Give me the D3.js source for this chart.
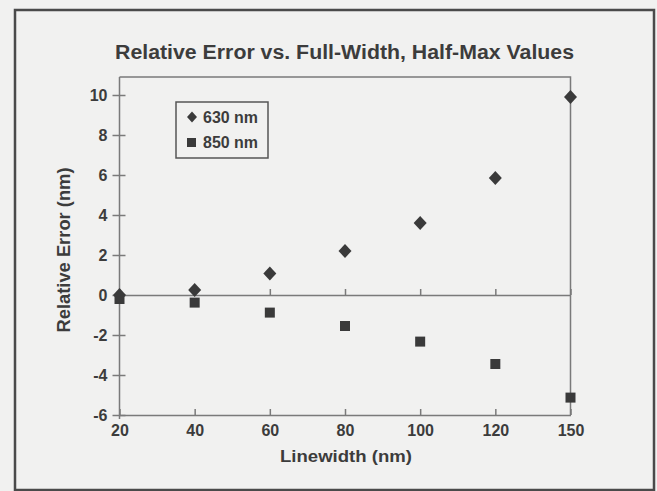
<!DOCTYPE html>
<html>
<head>
<meta charset="utf-8">
<script src="https://cdn.jsdelivr.net/npm/d3@7"></script>
<style>
  body { margin: 0; background: #f1f1f0; }
  text { font-family: "Liberation Sans", Arial, sans-serif; font-weight: bold; fill: #3c3c3c; }
</style>
</head>
<body>
<div id="chart"></div>
<script>
// chart values
var linewidths = ["20", "40", "60", "80", "100", "120", "150"];
var err630 = [0.0, 0.25, 1.08, 2.2, 3.6, 5.85, 9.9];
var err850 = [-0.2, -0.38, -0.88, -1.55, -2.33, -3.45, -5.13];
var yTicks = [-6, -4, -2, 0, 2, 4, 6, 8, 10];
var seriesNames = ["630 nm", "850 nm"];

var svgWidth = 657;
var svgHeight = 491;

var plot = { left: 119.5, right: 570.5, top: 77, bottom: 415 };

var svg = d3.select("#chart")
  .append("svg")
  .attr("width", svgWidth)
  .attr("height", svgHeight);

// page frame
svg.append("rect")
  .attr("x", 15).attr("y", 10)
  .attr("width", 639).attr("height", 480)
  .attr("fill", "none")
  .attr("stroke", "#4a4a4a")
  .attr("stroke-width", 2.5);

var xScale = d3.scalePoint()
  .domain(linewidths)
  .range([plot.left, plot.right]);

var yScale = d3.scaleLinear()
  .domain([-6, 10.9])
  .range([plot.bottom, plot.top]);

var axisColor = "#7a7a7a";

// top and right border of plot
svg.append("path")
  .attr("d", `M${plot.left},${plot.top}H${plot.right}V${plot.bottom}`)
  .attr("fill", "none")
  .attr("stroke", axisColor)
  .attr("stroke-width", 1.5);

// bottom axis
var bottomAxis = d3.axisBottom(xScale).tickSizeInner(-6).tickSizeOuter(0).tickPadding(11);
var gx = svg.append("g")
  .attr("transform", `translate(0, ${plot.bottom})`)
  .call(bottomAxis);

// zero line with ticks
var zeroAxis = d3.axisBottom(xScale).tickSizeInner(-6).tickSizeOuter(0).tickFormat("");
var gz = svg.append("g")
  .attr("transform", `translate(0, ${yScale(0)})`)
  .call(zeroAxis);

// left axis
var leftAxis = d3.axisLeft(yScale)
  .tickValues(yTicks)
  .tickFormat(d => String(d))
  .tickSizeInner(7).tickSizeOuter(0).tickPadding(5);
var gy = svg.append("g")
  .attr("transform", `translate(${plot.left}, 0)`)
  .call(leftAxis);
gy.selectAll(".tick line").attr("x2", 6).attr("x1", -7);
gy.select(".domain").attr("d", `M0,${plot.top}V${plot.bottom + 4}`);

[gx, gz, gy].forEach(function(g) {
  g.selectAll("path, line").attr("stroke", axisColor).attr("stroke-width", 1.5);
  g.selectAll("text").style("font-size", "16px").attr("fill", "#444");
});
gx.selectAll("text").attr("dy", "0.6em");

// points
var markColor = "#3a3a3a";

svg.append("g")
  .selectAll("path")
  .data(err630)
  .enter()
  .append("path")
  .attr("d", "M0,-7L6.5,0L0,7L-6.5,0Z")
  .attr("transform", (d, i) => `translate(${xScale(linewidths[i])}, ${yScale(d)})`)
  .attr("fill", markColor);

svg.append("g")
  .selectAll("rect")
  .data(err850)
  .enter()
  .append("rect")
  .attr("x", (d, i) => xScale(linewidths[i]) - 5)
  .attr("y", d => yScale(d) - 5)
  .attr("width", 10)
  .attr("height", 10)
  .attr("fill", markColor);

// legend
var legend = svg.append("g").attr("transform", "translate(176, 102)");
legend.append("rect")
  .attr("width", 92).attr("height", 56)
  .attr("fill", "none")
  .attr("stroke", "#555")
  .attr("stroke-width", 1.5);
legend.append("path")
  .attr("d", "M0,-5.5L5,0L0,5.5L-5,0Z")
  .attr("transform", "translate(16, 15)")
  .attr("fill", markColor);
legend.append("rect")
  .attr("x", 11).attr("y", 36)
  .attr("width", 9).attr("height", 9)
  .attr("fill", markColor);
legend.selectAll("text.leg")
  .data(seriesNames)
  .enter()
  .append("text")
  .attr("class", "leg")
  .attr("x", 27)
  .attr("y", (d, i) => 20.5 + i * 25.5)
  .attr("textLength", 55)
  .attr("lengthAdjust", "spacingAndGlyphs")
  .style("font-size", "16px")
  .text(d => d);

// title
svg.append("text")
  .attr("x", 115)
  .attr("y", 59)
  .attr("textLength", 459)
  .attr("lengthAdjust", "spacingAndGlyphs")
  .style("font-size", "20px")
  .attr("fill", "#333")
  .text("Relative Error vs. Full-Width, Half-Max Values");

// axis labels
svg.append("text")
  .attr("transform", `translate(70, ${(plot.top + plot.bottom) / 2 + 4}) rotate(-90)`)
  .style("text-anchor", "middle")
  .style("font-size", "18px")
  .attr("textLength", 165)
  .attr("lengthAdjust", "spacingAndGlyphs")
  .text("Relative Error (nm)");

svg.append("text")
  .attr("x", 346)
  .attr("y", 462)
  .style("text-anchor", "middle")
  .style("font-size", "17px")
  .attr("textLength", 132)
  .attr("lengthAdjust", "spacingAndGlyphs")
  .text("Linewidth (nm)");
</script>
</body>
</html>
